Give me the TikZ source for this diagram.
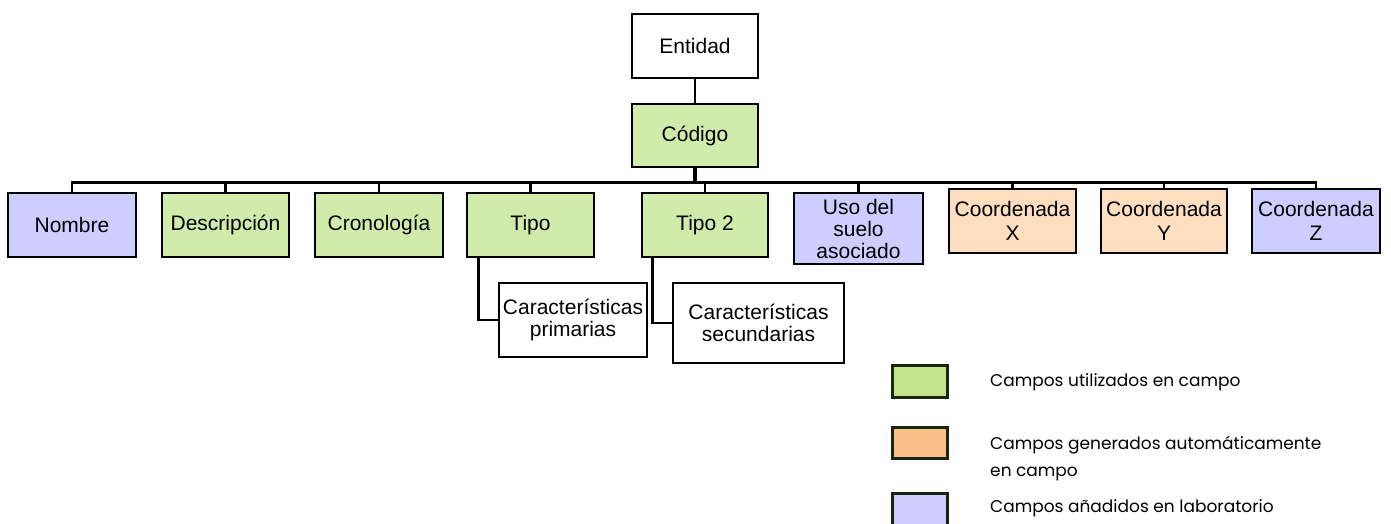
\documentclass[tikz,border=0pt]{standalone}
\usepackage{fontspec}
\setmainfont{Liberation Sans}
\newfontfamily\legendfont{Poppins}
\definecolor{fieldgreen}{RGB}{209,235,171}
\definecolor{fieldorange}{RGB}{253,222,191}
\definecolor{fieldblue}{RGB}{205,205,255}
\definecolor{keygreen}{RGB}{193,227,138}
\definecolor{keyorange}{RGB}{250,192,136}
\definecolor{keyblue}{RGB}{205,205,255}
\definecolor{keyedge}{RGB}{26,36,16}
\begin{document}
\begin{tikzpicture}[x=1pt,y=-1pt,
  box/.style={draw=black,line width=2.9pt,inner sep=0pt,align=center,
    font=\fontsize{21}{22}\selectfont,minimum width=127pt,minimum height=64pt},
  green/.style={box,fill=fieldgreen},
  orange/.style={box,fill=fieldorange},
  blue/.style={box,fill=fieldblue},
  plain/.style={box,fill=white},
  conn/.style={draw=black,line width=2.4pt},
  bus/.style={draw=black,line width=3.2pt},
  keybox/.style={draw=keyedge,line width=3pt,minimum width=55pt,minimum height=31pt,inner sep=0pt},
  keytext/.style={anchor=west,inner sep=0pt,align=left,
    font=\legendfont\fontsize{17}{27}\selectfont}]
\useasboundingbox (0,0) rectangle (1391,523);

% root and key
\node[plain,minimum width=126pt] (entidad) at (695,46) {Entidad};
\node[green,minimum width=126pt,minimum height=63pt] (codigo) at (695,135.5) {Código};

% fields
\node[blue,minimum width=128pt] (nombre) at (72,225) {Nombre};
\node[green] (descripcion) at (225.5,225) {Descripción};
\node[green,minimum width=128pt] (cronologia) at (379,225) {Cronología};
\node[green] (tipo) at (530.5,225) {Tipo};
\node[green,minimum width=126pt] (tipodos) at (705,225) {Tipo 2};
\node[blue,minimum width=129pt,minimum height=71pt] (uso) at (858.5,228.5) {Uso del\\suelo\\asociado};
\node[orange,font=\fontsize{21}{24}\selectfont] (coordx) at (1012.5,221) {Coordenada\\X};
\node[orange,minimum width=126pt,font=\fontsize{21}{24}\selectfont] (coordy) at (1164,221) {Coordenada\\Y};
\node[blue,minimum width=128pt,font=\fontsize{21}{24}\selectfont] (coordz) at (1316,221) {Coordenada\\Z};

% sub-fields
\node[plain,minimum width=148pt,minimum height=74pt] (carprim) at (573,320) {Características\\primarias};
\node[plain,minimum width=171pt,minimum height=80pt] (carsec) at (758.5,323) {Características\\secundarias};

% connectors
\draw[conn] (entidad.south) -- (codigo.north);
\draw[bus] (codigo.south) -- ++(0,14) coordinate (hub);
\foreach \n in {nombre,descripcion,cronologia,tipo,tipodos,uso,coordx,coordy,coordz}
  \draw[conn] (\n.north) |- (hub);
\draw[bus] (nombre.north |- hub) -- (coordz.north |- hub);
\draw[conn] ([xshift=13pt]tipo.south west) |- (carprim.west);
\draw[conn] ([xshift=12pt]tipodos.south west) |- (carsec.west);

% legend
\node[keybox,fill=keygreen,minimum height=32pt] (kg) at (919.5,381) {};
\node[keybox,fill=keyorange] (ko) at (919.5,442.5) {};
\node[keybox,fill=keyblue,minimum height=32pt] (kb) at (919.5,509) {};
\node[keytext] (tg) at (990,382) {Campos utilizados en campo};
\node[keytext] (to) at (990,458.5) {Campos generados automáticamente\\en campo};
\node[keytext] (tb) at (990,508) {Campos añadidos en laboratorio};
\end{tikzpicture}
\end{document}
